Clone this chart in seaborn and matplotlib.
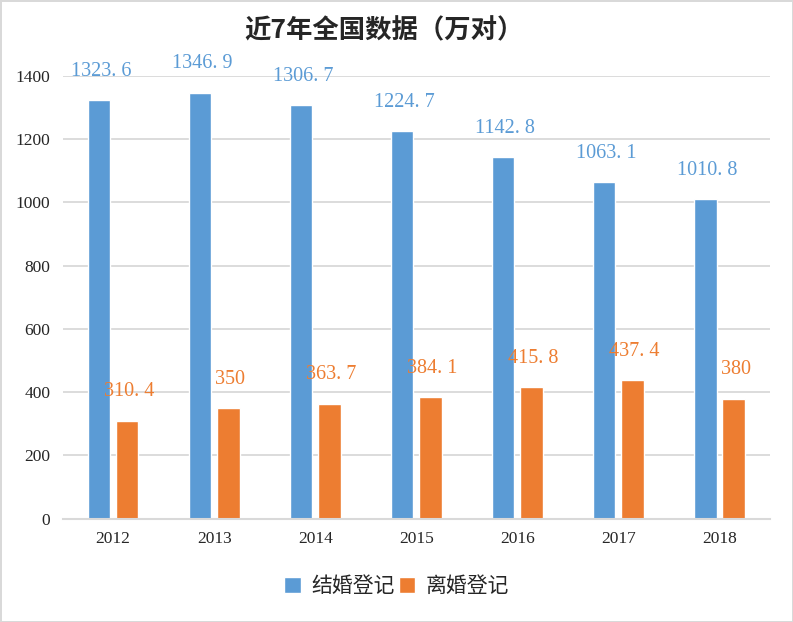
import numpy as np
import pandas as pd
import matplotlib.pyplot as plt
import seaborn as sns

# data
years = ['2012', '2013', '2014', '2015', '2016', '2017', '2018']
marriage = [1323.6, 1346.9, 1306.7, 1224.7, 1142.8, 1063.1, 1010.8]
divorce = [310.4, 350, 363.7, 384.1, 415.8, 437.4, 380]
series_names = ['结婚登记', '离婚登记']
colors = ['#5b9bd5', '#ed7d31']

df = pd.DataFrame({
    'year': years * 2,
    'value': marriage + divorce,
    'type': [series_names[0]] * len(years) + [series_names[1]] * len(years),
})

sns.set_style('white')
plt.rcParams['font.family'] = ['Liberation Serif', 'Noto Sans CJK SC', 'DejaVu Sans']

fig = plt.figure(figsize=(7.93, 6.22), dpi=100, edgecolor='#d9d9d9', linewidth=2)
ax = fig.add_axes([0.079, 0.166, 0.892, 0.712])

sns.barplot(data=df, x='year', y='value', hue='type', palette=colors,
            width=0.56, gap=0.21, saturation=1, ax=ax, legend=True)

ax.set_ylim(0, 1400)
ax.set_yticks(np.arange(0, 1401, 200))
ax.yaxis.grid(True, color='#d9d9d9', linewidth=1.3)
ax.set_axisbelow(True)
for s in ['top', 'right', 'left']:
    ax.spines[s].set_visible(False)
ax.spines['bottom'].set_color('#d9d9d9')
ax.spines['bottom'].set_linewidth(1.5)
ax.tick_params(axis='both', length=0, labelsize=12.5, pad=9)
ax.set_xlabel('')
ax.set_ylabel('')
ax.set_xlim(-0.5, 6.5)

# value labels
for cont, col in zip(ax.containers, colors):
    labels = [f'{v:g}'.replace('.', '. ') for v in cont.datavalues]
    for bar, lab in zip(cont, labels):
        ax.annotate(lab, (bar.get_x() + bar.get_width() / 2 + 0.02, bar.get_height()),
                    xytext=(0, 14), textcoords='offset points', ha='center', va='bottom',
                    color=col, fontsize=14.5, annotation_clip=False)

fig.text(0.484, 0.951, '近7年全国数据（万对）', ha='center', va='center', fontsize=19,
         fontweight='semibold', family=['Noto Sans CJK SC', 'DejaVu Sans'])

ax.get_legend().remove()
fig.legend(*ax.get_legend_handles_labels(), loc='center', bbox_to_anchor=(0.5, 0.058),
           ncol=2, frameon=False, handlelength=0.8, handleheight=0.8,
           handletextpad=0.5, columnspacing=0.2,
           prop={'family': ['Noto Sans CJK SC'], 'size': 15})

fig.savefig('out.png', dpi=100)
